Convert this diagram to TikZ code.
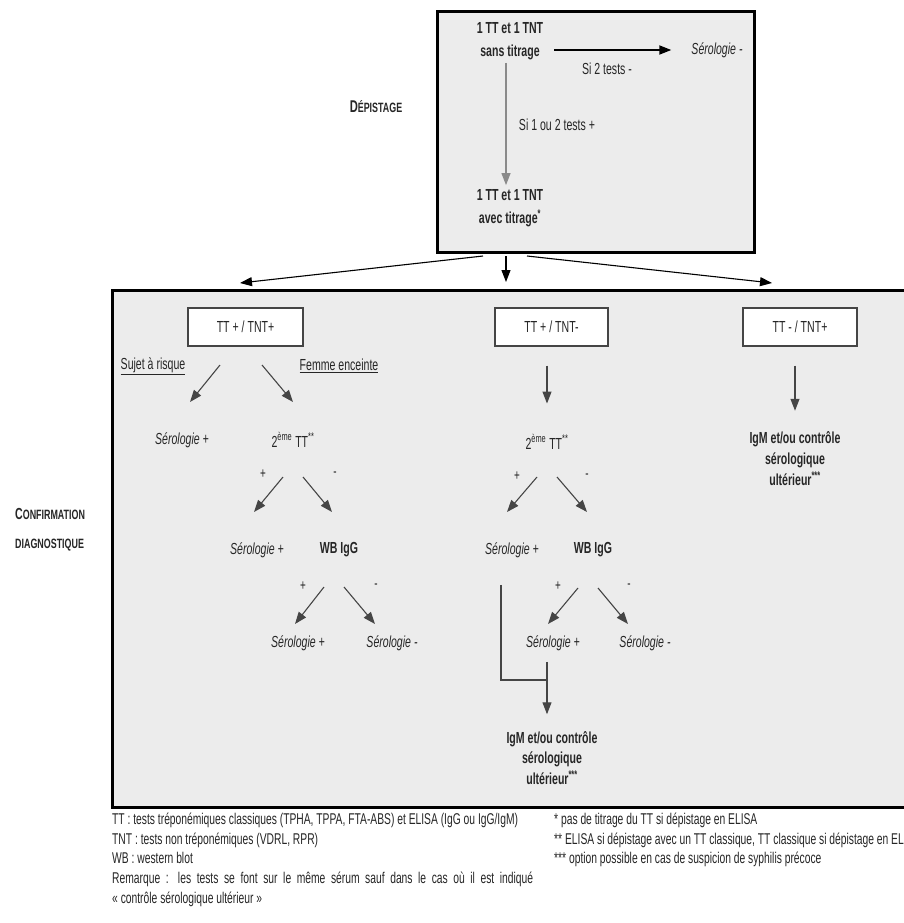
\documentclass[tikz,border=0pt]{standalone}
\usepackage{fontspec}
\setmainfont[FakeStretch=0.66]{Liberation Sans}
\usetikzlibrary{arrows.meta,calc}
\definecolor{boxgrey}{HTML}{ECECEC}
\definecolor{txt}{HTML}{262626}
\definecolor{linegrey}{HTML}{454545}
\definecolor{lightline}{HTML}{8A8A8A}
\newcommand\fakesc[1]{{\fontsize{13.5}{15}\selectfont #1}}
\begin{document}
\begin{tikzpicture}[x=1pt,y=-1pt,
  every node/.style={font=\fontsize{16}{20}\selectfont, text=txt, inner sep=1pt},
  panel/.style={draw=black, line width=3pt, fill=boxgrey, inner sep=0pt},
  result/.style={draw=linegrey, line width=1.2pt, fill=white, minimum width=114pt, minimum height=38pt},
  flow/.style={draw=linegrey, line width=1.1pt, -{Triangle[length=12pt,width=9pt]}},
  mainflow/.style={draw=black, line width=1.1pt, -{Triangle[length=12pt,width=9pt]}},
  plainline/.style={draw=linegrey, line width=1.1pt},
  res/.style={font=\fontsize{16}{20}\selectfont\itshape},
  strong/.style={font=\fontsize{16}{20}\selectfont\bfseries},
  sign/.style={font=\fontsize{15}{18}\selectfont},
  note/.style={font=\fontsize{15.6}{19.6}\selectfont, align=left, anchor=north west}
]
\clip (0,0) rectangle (904,923);
\useasboundingbox (0,0) rectangle (904,923);
\fill[white] (0,0) rectangle (904,923);

% ---------- panels ----------
\node[panel, minimum width=317pt, minimum height=240pt] (depbox) at (595.5,132) {};
\node[panel, minimum width=806pt, minimum height=517pt] (confbox) at (515,548.5) {};

% ---------- side titles ----------
\node[font=\fontsize{17}{20}\selectfont\bfseries] (deptitle) at (376,107) {D\fakesc{ÉPISTAGE}};
\node[anchor=west, align=left, font=\fontsize{16}{29}\selectfont\bfseries] (conftitle) at (14,530) {C\fakesc{ONFIRMATION}\\\fakesc{DIAGNOSTIQUE}};

% ---------- screening ----------
\node[align=center, font=\fontsize{16}{23}\selectfont\bfseries] (scr1) at (510,41) {1 TT et 1 TNT\\sans titrage};
\node[res] (seroneg0) at (717,50) {Sérologie -};
\node (lblneg) at (607,69) {Si 2 tests -};
\node[align=center, font=\fontsize{16}{23}\selectfont\bfseries] (scr2) at (510,208) {1 TT et 1 TNT\\avec titrage\textsuperscript{*}};
\node (lblpos) at (557,125) {Si 1 ou 2 tests +};
\coordinate (vx) at (506,0);
\draw[mainflow, line width=1.8pt, shorten <=10pt, shorten >=19pt] (scr1.east |- seroneg0.west) -- (seroneg0.west);
\draw[flow, draw=lightline, shorten <=2pt, shorten >=3pt] (scr1.south -| vx) -- (scr2.north -| vx);

% ---------- fork to confirmation ----------
\coordinate (f1) at (483,256);
\coordinate (f2) at (506,256);
\coordinate (f3) at (527,256);
\coordinate (t1) at (240,283);
\coordinate (t2) at (506,282);
\coordinate (t3) at (772,283);
\draw[mainflow] (f1) -- (t1);
\draw[mainflow] (f2) -- (t2);
\draw[mainflow] (f3) -- (t3);

% ---------- result boxes ----------
\node[result, minimum width=115pt] (bpp) at (245.5,327) {TT + / TNT+};
\node[result, minimum width=113pt] (bpm) at (551.5,327) {TT + / TNT-};
\node[result, minimum width=114pt] (bmp) at (800,327) {TT - / TNT+};

% ---------- left column ----------
\node (risk) at (153,366) {\underline{Sujet à risque}};
\node (preg) at (339,366) {\underline{Femme enceinte}};
\node[res] (sA) at (182,440) {Sérologie +};
\node (ttA) at (293,440) {2\textsuperscript{ème} TT\textsuperscript{**}};
\coordinate (a1s) at (220,365); \coordinate (a1e) at (190,402);
\coordinate (a2s) at (262,365); \coordinate (a2e) at (293,402);
\draw[flow] (a1s) -- (a1e);
\draw[flow] (a2s) -- (a2e);
\node[sign] (pA) at (263,474) {+};
\node[sign] (mA) at (335,474) {-};
\coordinate (a3s) at (283,477); \coordinate (a3e) at (254,512);
\coordinate (a4s) at (303,477); \coordinate (a4e) at (332,512);
\draw[flow] (a3s) -- (a3e);
\draw[flow] (a4s) -- (a4e);
\node[res] (sB) at (257,550) {Sérologie +};
\node[strong] (wbA) at (339,550) {WB IgG};
\node[sign] (pB) at (303,586) {+};
\node[sign] (mB) at (376,586) {-};
\coordinate (a5s) at (324,587); \coordinate (a5e) at (295,624);
\coordinate (a6s) at (344,587); \coordinate (a6e) at (375,624);
\draw[flow] (a5s) -- (a5e);
\draw[flow] (a6s) -- (a6e);
\node[res] (sC) at (298,643) {Sérologie +};
\node[res] (sD) at (392,643) {Sérologie -};

% ---------- middle column ----------
\node (ttB) at (547,442) {2\textsuperscript{ème} TT\textsuperscript{**}};
\draw[flow, shorten <=19pt, shorten >=30pt] (bpm.south -| ttB) -- (ttB.north);
\node[sign] (pC) at (517,476) {+};
\node[sign] (mC) at (587,476) {-};
\coordinate (b1s) at (537,477); \coordinate (b1e) at (507,512);
\coordinate (b2s) at (557,477); \coordinate (b2e) at (587,512);
\draw[flow] (b1s) -- (b1e);
\draw[flow] (b2s) -- (b2e);
\node[res] (sE) at (512,550) {Sérologie +};
\node[strong] (wbB) at (593,550) {WB IgG};
\node[sign] (pD) at (558,586) {+};
\node[sign] (mD) at (629,586) {-};
\coordinate (b3s) at (578,588); \coordinate (b3e) at (548,624);
\coordinate (b4s) at (598,588); \coordinate (b4e) at (628,624);
\draw[flow] (b3s) -- (b3e);
\draw[flow] (b4s) -- (b4e);
\node[res] (sF) at (553,643) {Sérologie +};
\node[res] (sG) at (645,643) {Sérologie -};
\node[align=center, font=\fontsize{16}{20.5}\selectfont\bfseries] (igmB) at (552,758) {IgM et/ou contrôle\\sérologique\\ultérieur\textsuperscript{***}};
\coordinate (join) at (547,680);
\coordinate (lx) at (501,0);
\draw[plainline] (sE.south -| lx) ++(0,26) -- (join -| lx) -- (join);
\draw[flow, shorten <=10pt, shorten >=16pt] (sF.south -| join) -- (igmB.north -| join);

% ---------- right column ----------
\node[align=center, font=\fontsize{16}{21}\selectfont\bfseries] (igmA) at (795,459) {IgM et/ou contrôle\\sérologique\\ultérieur\textsuperscript{***}};
\draw[flow, shorten <=19pt, shorten >=20pt] (bmp.south -| igmA) -- (igmA.north);

% ---------- legends ----------
\node[note] (legL) at (111,812) {TT : tests tréponémiques classiques (TPHA, TPPA, FTA-ABS) et ELISA (IgG ou IgG/IgM)\\TNT : tests non tréponémiques (VDRL, RPR)\\WB : western blot\\\makebox[421pt][s]{Remarque : les tests se font sur le même sérum sauf dans le cas où il est indiqué}\\« contrôle sérologique ultérieur »};
\node[note] (legR) at (553,812) {* pas de titrage du TT si dépistage en ELISA\\** ELISA si dépistage avec un TT classique, TT classique si dépistage en ELISA\\*** option possible en cas de suspicion de syphilis précoce};
\end{tikzpicture}
\end{document}
